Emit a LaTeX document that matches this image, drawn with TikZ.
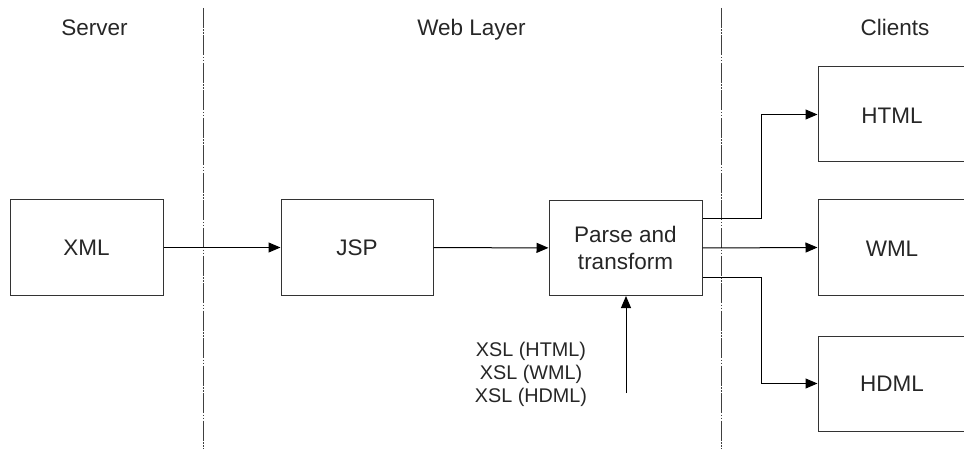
\documentclass[tikz,border=0pt]{standalone}
\usepackage{fontspec}
\setmainfont{Liberation Sans}
\usetikzlibrary{arrows.meta}
\begin{document}
\begin{tikzpicture}[x=1pt,y=-1pt,
  box/.style={draw=black!80,line width=1pt,minimum width=153pt,minimum height=95pt,
    inner sep=0pt,align=center,text=black!85,font=\fontsize{22.5}{27}\selectfont},
  clientbox/.style={box,minimum width=200pt},
  label/.style={box,draw=none,minimum width=0pt,minimum height=0pt},
  heading/.style={anchor=base,text=black!85,font=\fontsize{22.5}{27}\selectfont},
  arr/.style={draw=black,line width=1pt,-{Triangle[length=12pt,width=10pt]}},
  separator/.style={draw=black!75,line width=0.9pt,
    dash pattern=on 20pt off 1.5pt on 1.5pt off 1.5pt on 1.5pt off 1.5pt}]
\useasboundingbox (0,0) rectangle (964,449);
\clip (0,0) rectangle (964,449);

% tier separators
\coordinate (s1top) at (203,8);
\coordinate (s1bot) at (203,449);
\coordinate (s2top) at (721,8);
\coordinate (s2bot) at (721,449);
\draw[separator] (s1top) -- (s1bot);
\draw[separator] (s2top) -- (s2bot);

% tier headings
\node[heading] (hserver) at (94.5,36) {Server};
\node[heading] (hweb) at (471.5,36) {Web Layer};
\node[heading] (hclients) at (895,36) {Clients};

% processing boxes
\node[box] (xml) at (86.5,247.5) {XML};
\node[box,minimum width=152pt] (jsp) at (357,247.5) {JSP};
\node[box] (parse) at (625.5,248) {Parse and\\transform};

% client boxes (running past the right edge)
\node[clientbox] (html) at (918,114.5) {};
\node[label] (htmlt) at (892,116) {HTML};
\node[clientbox] (wml) at (918,247.5) {};
\node[label] (wmlt) at (892,249) {WML};
\node[clientbox] (hdml) at (918,383.5) {};
\node[label] (hdmlt) at (892,384) {HDML};

% main flow
\draw[arr] (xml) -- (jsp);
\draw[arr] (jsp) -- (parse);

% outputs to clients
\draw[arr] ([yshift=29pt]parse.east) -- ++(59pt,0) |- (html.west);
\draw[arr] (parse.east) -- (wml.west);
\draw[arr] ([yshift=-29pt]parse.east) -- ++(59pt,0) |- (hdml.west);

% stylesheet input
\node[align=center,text=black!85,font=\fontsize{19.8}{23}\selectfont] (xsl) at (531,374)
  {XSL (HTML)\\XSL (WML)\\XSL (HDML)};
\coordinate (xslin) at (626,393);
\draw[arr] (xslin) -- (xslin |- parse.south);
\end{tikzpicture}
\end{document}
